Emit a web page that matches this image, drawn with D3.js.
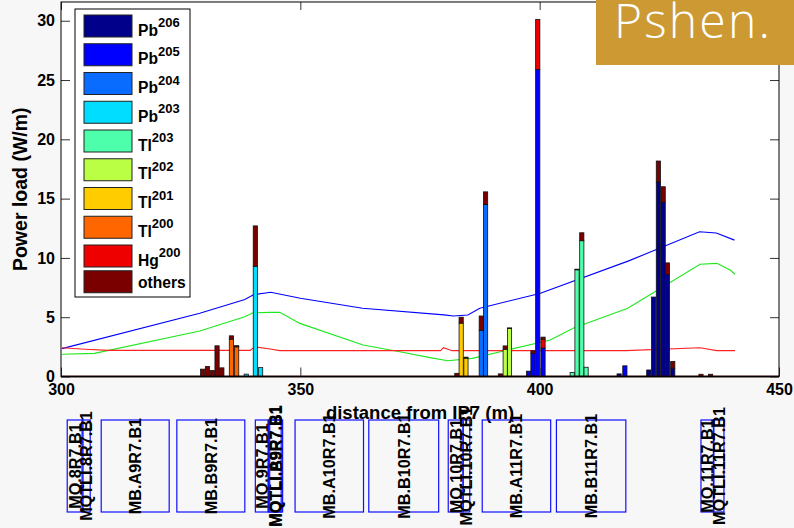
<!DOCTYPE html>
<html>
<head>
<meta charset="utf-8">
<script src="https://cdn.jsdelivr.net/npm/d3@7"></script>
<style>
  body { margin: 0; background: #f7f7f7; }
  svg { display: block; font-family: "Liberation Sans", Arial, sans-serif; }
</style>
</head>
<body>
<div id="vis"></div>
<script>
// species, stacked from the bottom up (same order as the legend)
const species = ["Pb206", "Pb205", "Pb204", "Pb203", "Tl203", "Tl202", "Tl201", "Tl200", "Hg200", "others"];
const speciesName = ["Pb", "Pb", "Pb", "Pb", "Tl", "Tl", "Tl", "Tl", "Hg", "others"];
const speciesMass = ["206", "205", "204", "203", "203", "202", "201", "200", "200", ""];
const speciesColor = ["#00008a", "#0000ff", "#0a6cff", "#00ddff", "#4dffaa",
                      "#bbff44", "#ffcc00", "#ff6600", "#ee0000", "#7a0000"];

// bin centres along s (m)
const binPos = [329.6, 330.6, 331.6, 332.6, 333.6, 335.6, 336.7, 338.7, 340.6, 341.7,
                382.7, 383.6, 384.6, 387.8, 388.7, 391.8, 392.8, 393.7, 397.7, 398.6,
                399.6, 400.7, 406.8, 407.8, 408.8, 409.7, 416.6, 417.8, 422.8, 423.8,
                424.8, 425.8, 426.7, 427.8, 433.7, 435.7];

// power load per species (W/m), one value per bin
const pb206 = [0, 0, 0, 0, 0, 0, 0, 0, 0, 0,
               0, 0, 0, 0, 0, 0, 0, 0, 0, 0,
               0, 0, 0, 0, 0, 0, 0.22, 0, 0.55, 6.7,
               16.4, 14.7, 8.6, 0.7, 0, 0];
const pb205 = [0, 0, 0, 0, 0, 0, 0, 0, 0, 0,
               0, 0, 0, 0, 0, 0, 0, 0, 0.45, 1.95,
               25.9, 2.4, 0, 0, 0, 0, 0, 0.9, 0, 0,
               0, 0, 0, 0, 0, 0];
const pb204 = [0, 0, 0, 0, 0, 0, 0, 0, 0, 0,
               0, 0, 0, 3.9, 14.5, 0, 0, 0, 0, 0,
               0, 0, 0, 0, 0, 0, 0, 0, 0, 0,
               0, 0, 0, 0, 0, 0];
const pb203 = [0, 0, 0, 0, 0, 0, 0, 0.2, 9.3, 0.75,
               0, 0, 0, 0, 0, 0, 0, 0, 0, 0,
               0, 0, 0, 0, 0, 0, 0, 0, 0, 0,
               0, 0, 0, 0, 0, 0];
const tl203 = [0, 0, 0, 0, 0, 0, 0, 0, 0, 0,
               0, 0, 0, 0, 0, 0, 0, 0, 0, 0,
               0, 0, 0.34, 9.0, 11.45, 0.78, 0, 0, 0, 0,
               0, 0, 0, 0, 0, 0];
const tl202 = [0, 0, 0, 0, 0, 0, 0, 0, 0, 0,
               0, 0, 0, 0, 0, 0, 2.3, 4.05, 0, 0,
               0, 0, 0, 0, 0, 0, 0, 0, 0, 0,
               0, 0, 0, 0, 0, 0];
const tl201 = [0, 0, 0, 0, 0, 0, 0, 0, 0, 0,
               0, 4.5, 1.55, 0, 0, 0, 0, 0, 0, 0,
               0, 0, 0, 0, 0, 0, 0, 0, 0, 0,
               0, 0, 0, 0, 0, 0];
const tl200 = [0, 0, 0, 0, 0, 3.15, 2.5, 0, 0, 0,
               0, 0, 0, 0, 0, 0, 0, 0, 0, 0,
               0, 0, 0, 0, 0, 0, 0, 0, 0, 0,
               0, 0, 0, 0, 0, 0];
const hg200 = [0, 0, 0, 0, 0, 0, 0, 0, 0, 0,
               0, 0, 0, 0, 0, 0, 0, 0, 0, 0,
               4.2, 0.75, 0, 0, 0, 0, 0, 0, 0, 0,
               0, 0, 0, 0, 0, 0];
const others = [0.62, 0.84, 0.5, 2.59, 0.73, 0.28, 0.1, 0, 3.4, 0,
                0.27, 0.5, 0.08, 1.2, 1.07, 0.22, 0.28, 0.05, 0, 0.22,
                0, 0.17, 0, 0.05, 0.67, 0, 0, 0, 0, 0,
                1.77, 1.3, 0.98, 0.56, 0.19, 0.19];
const seriesValues = [pb206, pb205, pb204, pb203, tl203, tl202, tl201, tl200, hg200, others];

// limit curves
const bluePos = [300.2, 329, 338.4, 340.2, 343.8, 350, 363, 380, 382, 385, 387.5, 400, 402, 418.6, 433.4, 436.9, 440.7];
const blueVal = [2.35, 5.33, 6.5, 6.9, 7.1, 6.6, 5.75, 5.2, 5.1, 5.18, 5.76, 7.0, 7.3, 9.75, 12.2, 12.1, 11.5];
const greenPos = [300.2, 307, 329, 338.4, 340.1, 343.7, 345.7, 349.9, 363.1, 370.8, 377.1, 380.8, 385.9, 402.2, 407, 418.4, 433.5, 437, 439.8, 440.8];
const greenVal = [1.87, 1.95, 3.84, 5.04, 5.38, 5.41, 5.41, 4.48, 2.66, 2.09, 1.59, 1.33, 1.53, 3.08, 4.06, 5.75, 9.46, 9.54, 8.98, 8.62];
const redPos = [300.2, 305, 310, 339.5, 340.5, 343.7, 345.7, 379.3, 379.9, 381.7, 418, 433.5, 437, 440.8];
const redVal = [2.43, 2.3, 2.2, 2.2, 2.5, 2.32, 2.18, 2.18, 2.43, 2.18, 2.18, 2.43, 2.18, 2.18];

// magnets of the layout strip
const elementNames = ["MQ.8R7.B1", "MQTLI.8R7.B1", "MB.A9R7.B1", "MB.B9R7.B1", "MQ.9R7.B1",
                      "MQTLI.A9R7.B1", "MQTLI.B9R7.B1", "MB.A10R7.B1", "MB.B10R7.B1", "MQ.10R7.B1",
                      "MQTLI.10R7.B1", "MB.A11R7.B1", "MB.B11R7.B1", "MQ.11R7.B1", "MQTLI.11R7.B1"];
const elementFrom = [301.3, 304.4, 308.4, 324.2, 340.6, 343.3, 343.6, 348.9, 364.3, 380.9, 384.0, 388.0, 403.5, 433.7, 436.3];
const elementTo   = [304.6, 306.1, 322.6, 338.4, 343.3, 346.0, 346.3, 363.2, 378.9, 384.0, 385.4, 402.3, 418.0, 436.4, 438.5];

const xTicks = [300, 350, 400, 450];
const yTicks = [0, 5, 10, 15, 20, 25, 30];

const width = 794, height = 528;
const plot = { left: 61, right: 779, top: 2, bottom: 376.5 };

const x = d3.scaleLinear().domain([300, 450]).range([plot.left, plot.right]);
const y = d3.scaleLinear().domain([0, 31.58]).range([plot.bottom, plot.top]);

const svg = d3.select("#vis")
    .append("svg")
    .attr("width", width)
    .attr("height", height);

svg.append("rect")
    .attr("width", width)
    .attr("height", height)
    .attr("fill", "#f7f7f7");

svg.append("rect")
    .attr("x", plot.left)
    .attr("y", plot.top)
    .attr("width", plot.right - plot.left)
    .attr("height", plot.bottom - plot.top)
    .attr("fill", "#fff");

// curves
const line = d3.line().x((d) => x(d[0])).y((d) => y(d[1]));
const curves = [
    { pos: bluePos, val: blueVal, color: "#0000ff" },
    { pos: greenPos, val: greenVal, color: "#1ee81e" },
    { pos: redPos, val: redVal, color: "#ff2222" }
];
svg.selectAll(".curve")
    .data(curves)
    .enter()
    .append("path")
    .attr("class", "curve")
    .attr("d", (c) => line(c.pos.map((p, i) => [p, c.val[i]])))
    .attr("fill", "none")
    .attr("stroke", (c) => c.color)
    .attr("stroke-width", 1.1);

// stacked bars
const table = binPos.map((p, i) => {
    const row = { pos: p };
    species.forEach((s, k) => { row[s] = seriesValues[k][i]; });
    return row;
});
const stacked = d3.stack().keys(species)(table);
const barW = x(300.88) - x(300);

svg.append("g")
    .selectAll("g")
    .data(stacked)
    .enter()
    .append("g")
    .attr("fill", (d, k) => speciesColor[k])
    .selectAll("rect")
    .data((d) => d.filter((v) => v[1] - v[0] > 0))
    .enter()
    .append("rect")
    .attr("x", (v) => x(v.data.pos) - barW / 2)
    .attr("y", (v) => y(v[1]))
    .attr("width", barW)
    .attr("height", (v) => y(v[0]) - y(v[1]))
    .attr("stroke", "#111")
    .attr("stroke-width", 0.8);

// thick dark floor of the bars
svg.append("line")
    .attr("x1", plot.left).attr("x2", plot.right)
    .attr("y1", y(0)).attr("y2", y(0))
    .attr("stroke", "#2a0000")
    .attr("stroke-width", 2);

// axes (ticks inward, MATLAB style)
const tickFont = (g) => g.selectAll("text")
    .attr("font-size", 16)
    .attr("font-weight", "bold")
    .attr("font-family", "Liberation Sans, Arial, sans-serif")
    .attr("fill", "#000");

svg.append("g")
    .attr("transform", `translate(0,${plot.bottom})`)
    .call(d3.axisBottom(x).tickValues(xTicks).tickSize(-9).tickSizeOuter(0).tickPadding(7))
    .call(tickFont)
    .call((g) => g.select(".domain").remove());

svg.append("g")
    .attr("transform", `translate(${plot.left},0)`)
    .call(d3.axisLeft(y).tickValues(yTicks).tickSize(-9).tickSizeOuter(0).tickPadding(6))
    .call(tickFont)
    .call((g) => g.select(".domain").remove());

svg.append("g")
    .attr("transform", `translate(0,${plot.top})`)
    .call(d3.axisTop(x).tickValues(xTicks).tickSize(-8).tickSizeOuter(0).tickFormat(""))
    .call((g) => g.select(".domain").remove());

svg.append("g")
    .attr("transform", `translate(${plot.right},0)`)
    .call(d3.axisRight(y).tickValues(yTicks).tickSize(-9).tickSizeOuter(0).tickFormat(""))
    .call((g) => g.select(".domain").remove());

svg.selectAll(".tick line").attr("stroke", "#333");

svg.append("rect")
    .attr("x", plot.left)
    .attr("y", plot.top)
    .attr("width", plot.right - plot.left)
    .attr("height", plot.bottom - plot.top)
    .attr("fill", "none")
    .attr("stroke", "#000")
    .attr("stroke-width", 1);

// axis titles
svg.append("text")
    .attr("x", (plot.left + plot.right) / 2)
    .attr("y", 419)
    .attr("text-anchor", "middle")
    .attr("font-size", 18.5)
    .attr("font-weight", "bold")
    .text("distance from IP7 (m)");

svg.append("text")
    .attr("transform", `translate(27,${(plot.top + plot.bottom) / 2}) rotate(-90)`)
    .attr("text-anchor", "middle")
    .attr("font-size", 19.5)
    .attr("font-weight", "bold")
    .text("Power load (W/m)");

// legend
const legend = svg.append("g");
legend.append("rect")
    .attr("x", 75).attr("y", 9)
    .attr("width", 115).attr("height", 288)
    .attr("fill", "#fff")
    .attr("stroke", "#000");

// rows without a superscript are a little shorter
const rowTop = (i) => 15 + 28.75 * i - (speciesMass[i] ? 0 : 3);

const item = legend.selectAll(".item")
    .data(species)
    .enter()
    .append("g")
    .attr("class", "item")
    .attr("transform", (d, i) => `translate(0,${rowTop(i)})`);

item.append("rect")
    .attr("x", 84)
    .attr("width", 48)
    .attr("height", 22)
    .attr("fill", (d, i) => speciesColor[i])
    .attr("stroke", "#222")
    .attr("stroke-width", 1);

const label = item.append("text")
    .attr("x", 138)
    .attr("y", (d, i) => speciesMass[i] ? 20.5 : 17.6)
    .attr("font-size", 15.6)
    .attr("font-weight", "bold");
label.append("tspan").text((d, i) => speciesName[i]);
label.append("tspan")
    .attr("dy", -8.5)
    .attr("font-size", 13)
    .text((d, i) => speciesMass[i]);

// magnet layout strip
const el = svg.append("g")
    .selectAll("g")
    .data(elementNames)
    .enter()
    .append("g");

el.append("rect")
    .attr("x", (d, i) => x(elementFrom[i]))
    .attr("y", 420)
    .attr("width", (d, i) => x(elementTo[i]) - x(elementFrom[i]))
    .attr("height", 92)
    .attr("fill", "none")
    .attr("stroke", "#1010ff")
    .attr("stroke-width", 1.2);

el.append("text")
    .attr("transform", (d, i) => `translate(${x((elementFrom[i] + elementTo[i]) / 2)},466) rotate(-90)`)
    .attr("text-anchor", "middle")
    .attr("dy", "0.36em")
    .attr("font-size", 16.2)
    .attr("font-weight", "bold")
    .text((d) => d);

// corner badge
svg.append("rect")
    .attr("x", 596).attr("y", 0)
    .attr("width", 198).attr("height", 65)
    .attr("fill", "#cc9933");

svg.append("text")
    .attr("x", 614)
    .attr("y", 38)
    .attr("font-family", "'Open Sans', Lato, sans-serif")
    .attr("font-weight", 300)
    .attr("font-size", 48)
    .attr("letter-spacing", 2.2)
    .attr("fill", "#fff")
    .text("Pshen.");
</script>
</body>
</html>
